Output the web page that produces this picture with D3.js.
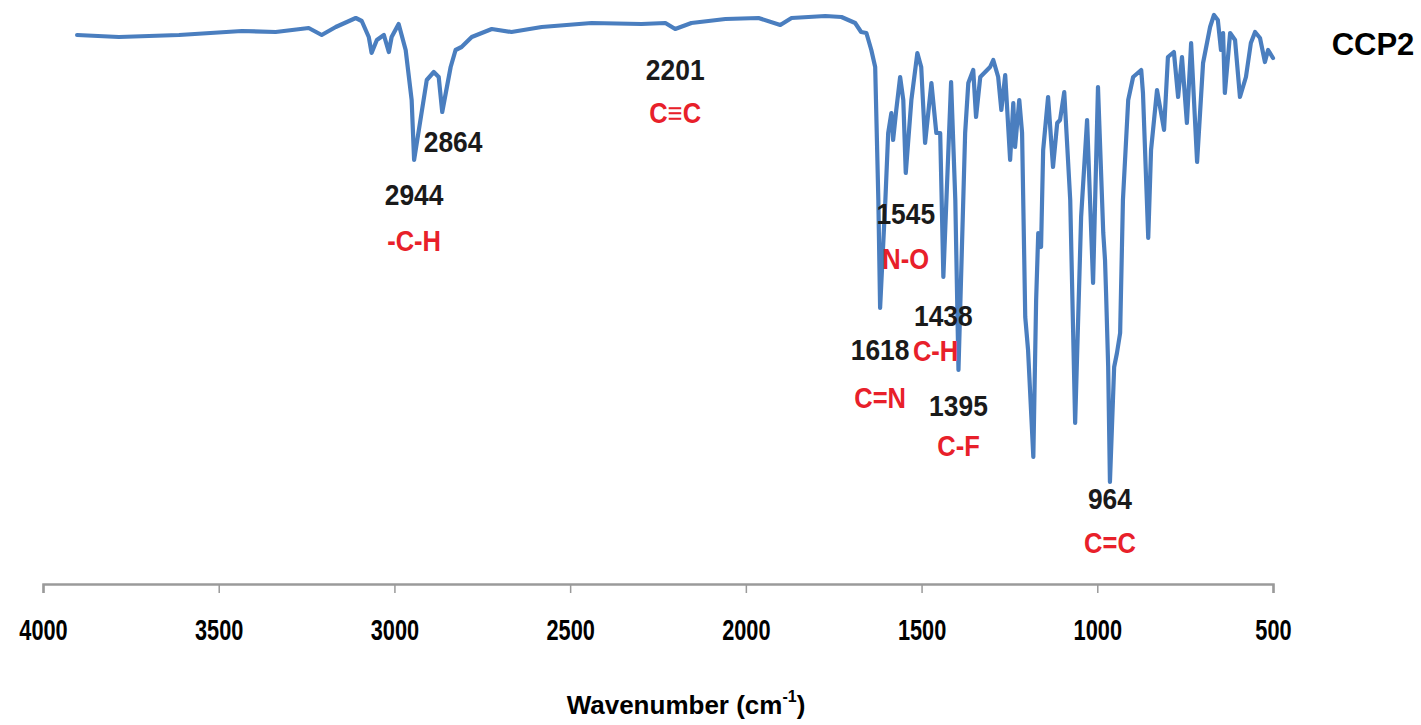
<!DOCTYPE html>
<html>
<head>
<meta charset="utf-8">
<script src="https://cdn.jsdelivr.net/npm/d3@7"></script>
<style>
  html, body { margin: 0; padding: 0; background: #fff; }
</style>
</head>
<body>
<div id="chart"></div>
<script>
// IR spectrum (wavenumber cm-1, transmittance %)
const wavenumbers = [3903, 3784, 3613, 3434, 3338, 3244, 3207, 3167, 3110, 3093, 3073, 3065, 3050, 3030, 3016, 3008, 2988, 2968, 2951, 2944,
  2908, 2888, 2874, 2864, 2840, 2826, 2809, 2780, 2723, 2667, 2581, 2439, 2297, 2229, 2201, 2155, 2058, 1964, 1902, 1870,
  1774, 1728, 1689, 1672, 1657, 1643, 1632, 1623, 1618, 1603, 1595, 1586, 1581, 1572, 1561, 1552, 1545, 1529, 1512, 1501,
  1490, 1472, 1458, 1447, 1438, 1416, 1404, 1395, 1376, 1367, 1353, 1345, 1333, 1319, 1305, 1296, 1282, 1273, 1262, 1248,
  1239, 1234, 1222, 1214, 1205, 1197, 1182, 1174, 1168, 1160, 1154, 1140, 1126, 1114, 1106, 1094, 1077, 1063, 1046, 1029,
  1012, 998, 983, 978, 975, 969, 964, 952, 944, 935, 927, 912, 898, 875, 870, 855, 847, 830, 810, 799,
  782, 770, 759, 745, 733, 716, 699, 679, 668, 657, 648, 642, 637, 622, 608, 594, 577, 563, 551, 537,
  523, 514, 500];
const transmittance = [93, 92.6, 93, 93.8, 93.6, 94.4, 93, 94.6, 96.4, 95.8, 92.6, 89.4, 92, 93, 89.6, 92.6, 95.2, 90, 80, 68,
  84, 85.6, 84.6, 77.6, 86.6, 90, 90.6, 92.6, 94.2, 93.6, 94.6, 95.4, 95.2, 95.4, 94.2, 95.4, 96.2, 96.4, 95, 96.4,
  96.8, 96.6, 95.4, 93.6, 93.4, 90, 86.6, 60, 38.4, 60, 73.4, 77.4, 72, 78, 84.6, 80, 65.4, 80, 89.4, 86.6,
  71.4, 83.4, 73.4, 73.4, 44.6, 83.6, 60, 26, 73.4, 83.4, 86, 76.6, 84.6, 85.6, 86.6, 88, 84.6, 78, 85, 68,
  79.4, 70.6, 80, 73.4, 36.6, 30, 8.6, 40, 53.4, 50.6, 70, 80.6, 66.6, 75.4, 76, 81.6, 60, 15.4, 56.6, 76,
  43.4, 82.6, 53.4, 48, 41.4, 26.6, 3.6, 26.6, 29.4, 33.4, 60, 80, 84.6, 86, 81.4, 52.4, 70, 82, 74, 88.6,
  89.6, 80.6, 88.6, 75.4, 91.4, 67.6, 87.4, 94.6, 97, 96, 90, 93.4, 81.4, 93.4, 92, 80.6, 84.6, 91.4, 93.6, 92.4,
  87.6, 90, 88.4];

const xTicks = [4000, 3500, 3000, 2500, 2000, 1500, 1000, 500];

// peak annotations: wavenumber label + assigned bond, placed in data units
const peakNumbers = ["2864", "2944", "2201", "1545", "1438", "1618", "1395", "964"];
const peakNumberPos = [[2833, 69.6], [2944, 59], [2201, 84], [1545, 55.2], [1438, 34.8], [1618, 28], [1395, 16.8], [964, -1.8]];
const bonds = ["-C-H", "C\u2261C", "N-O", "C-H", "C=N", "C-F", "C=C"];
const bondPos = [[2944, 49.8], [2201, 75.4], [1545, 46.2], [1460, 27.8], [1618, 18.4], [1395, 8.8], [964, -10.6]];

const width = 1421, height = 725;

const svg = d3
  .select("#chart")
  .append("svg")
  .attr("width", width)
  .attr("height", height);

const x = d3.scaleLinear().domain([4000, 500]).range([43, 1273]);
const y = d3.scaleLinear().domain([0, 100]).range([500, 0]);

const data = wavenumbers.map((w, i) => [w, transmittance[i]]);

// squeeze text horizontally to mimic the narrow font of the original
function squeeze(sel, ratio) {
  sel.each(function () {
    const w = this.getComputedTextLength();
    d3.select(this).attr("textLength", w * ratio).attr("lengthAdjust", "spacingAndGlyphs");
  });
}

// x axis
const axisY = 584;
const xAxis = d3.axisBottom(x).tickValues(xTicks).tickSize(9).tickPadding(26).tickFormat(d3.format("d"));
const gx = svg
  .append("g")
  .attr("transform", "translate(0," + axisY + ")")
  .call(xAxis);
gx.select(".domain").attr("stroke", "#9a9a9a").attr("stroke-width", 2.5);
gx.selectAll(".tick line").attr("stroke", "#9a9a9a").attr("stroke-width", 1.5);
gx.selectAll(".tick text")
  .attr("fill", "#000")
  .style("font-family", "'Liberation Sans', Arial, sans-serif")
  .style("font-weight", "bold")
  .style("font-size", "29px")
  .call(squeeze, 0.75);

// spectrum line
const line = d3
  .line()
  .x((d) => x(d[0]))
  .y((d) => y(d[1]));

svg
  .append("path")
  .datum(data)
  .attr("fill", "none")
  .attr("stroke", "#4a7ebf")
  .attr("stroke-width", 4.2)
  .attr("stroke-linejoin", "round")
  .attr("stroke-linecap", "round")
  .attr("d", line);

// annotations
const annoFont = "'Liberation Sans', Arial, sans-serif";
svg
  .selectAll(".peak")
  .data(peakNumbers)
  .enter()
  .append("text")
  .attr("class", "peak")
  .attr("x", (d, i) => x(peakNumberPos[i][0]))
  .attr("y", (d, i) => y(peakNumberPos[i][1]))
  .attr("text-anchor", "middle")
  .style("font-family", annoFont)
  .style("font-weight", "bold")
  .style("font-size", "29px")
  .attr("fill", "#1a1a1a")
  .text((d) => d)
  .call(squeeze, 0.91);

svg
  .selectAll(".bond")
  .data(bonds)
  .enter()
  .append("text")
  .attr("class", "bond")
  .attr("x", (d, i) => x(bondPos[i][0]))
  .attr("y", (d, i) => y(bondPos[i][1]))
  .attr("text-anchor", "middle")
  .style("font-family", annoFont)
  .style("font-weight", "bold")
  .style("font-size", "29px")
  .attr("fill", "#e8202a")
  .text((d) => d)
  .call(squeeze, 0.88);

// sample name
svg
  .append("text")
  .attr("x", 1373)
  .attr("y", 55)
  .attr("text-anchor", "middle")
  .style("font-family", "'Liberation Sans', Arial, sans-serif")
  .style("font-weight", "bold")
  .style("font-size", "31px")
  .text("CCP2");

// axis title
const title = svg
  .append("text")
  .attr("x", 686)
  .attr("y", 714)
  .attr("text-anchor", "middle")
  .style("font-family", "'Liberation Sans', Arial, sans-serif")
  .style("font-weight", "bold")
  .style("font-size", "26px");
title.append("tspan").text("Wavenumber (cm");
title.append("tspan").attr("dy", -12).style("font-size", "16px").text("-1");
title.append("tspan").attr("dy", 12).text(")");
</script>
</body>
</html>
